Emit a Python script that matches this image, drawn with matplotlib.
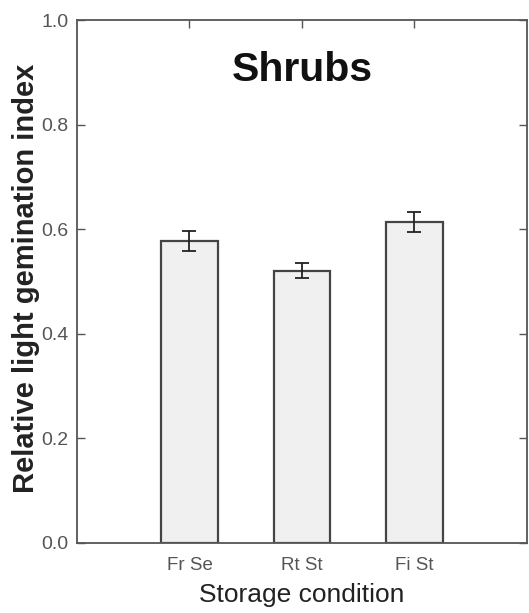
import matplotlib.pyplot as plt

categories = ["Fr Se", "Rt St", "Fi St"]
values = [0.577, 0.521, 0.614]
errors = [0.019, 0.015, 0.020]
yticks = [0.0, 0.2, 0.4, 0.6, 0.8, 1.0]

font = "Liberation Sans"

fig = plt.figure(figsize=(5.29, 6.13), dpi=100)
ax = fig.add_axes([0.1456, 0.1142, 0.996 - 0.1456, 0.967 - 0.1142])

x = [1, 2, 3]
ax.bar(x, values, width=0.5, color="#f0f0f0", edgecolor="#444444", linewidth=1.6, zorder=2)
ax.errorbar(x, values, yerr=errors, fmt="none", ecolor="#222222", elinewidth=1.3,
            capsize=5, capthick=1.3, zorder=3)

ax.set_xlim(0, 4)
ax.set_ylim(0, 1.0)
ax.set_xticks(x)
ax.set_xticklabels(categories, fontfamily=font, fontsize=13.5, color="#555555")
ax.set_yticks(yticks)
ax.set_yticklabels([f"{v:.1f}" for v in yticks], fontfamily=font, fontsize=14, color="#555555")

ax.tick_params(axis="x", bottom=False, top=True, direction="in", length=6, width=1, color="#555555", pad=10)
ax.tick_params(axis="y", left=True, right=True, direction="in", length=6, width=1, color="#555555", pad=6)

for s in ax.spines.values():
    s.set_color("#555555")
    s.set_linewidth(1.3)

ax.set_xlabel("Storage condition", fontfamily=font, fontsize=19, color="#222222")
ax.xaxis.set_label_coords(0.5, -0.077)
ax.set_ylabel("Relative light gemination index", fontfamily=font, fontsize=21,
              fontweight="bold", color="#222222")
ax.yaxis.set_label_coords(-0.082, 0.507)
ax.text(2, 0.905, "Shrubs", ha="center", va="center", fontfamily=font,
        fontsize=29.5, fontweight="bold", color="#111111")

fig.savefig("out.png", dpi=100)
